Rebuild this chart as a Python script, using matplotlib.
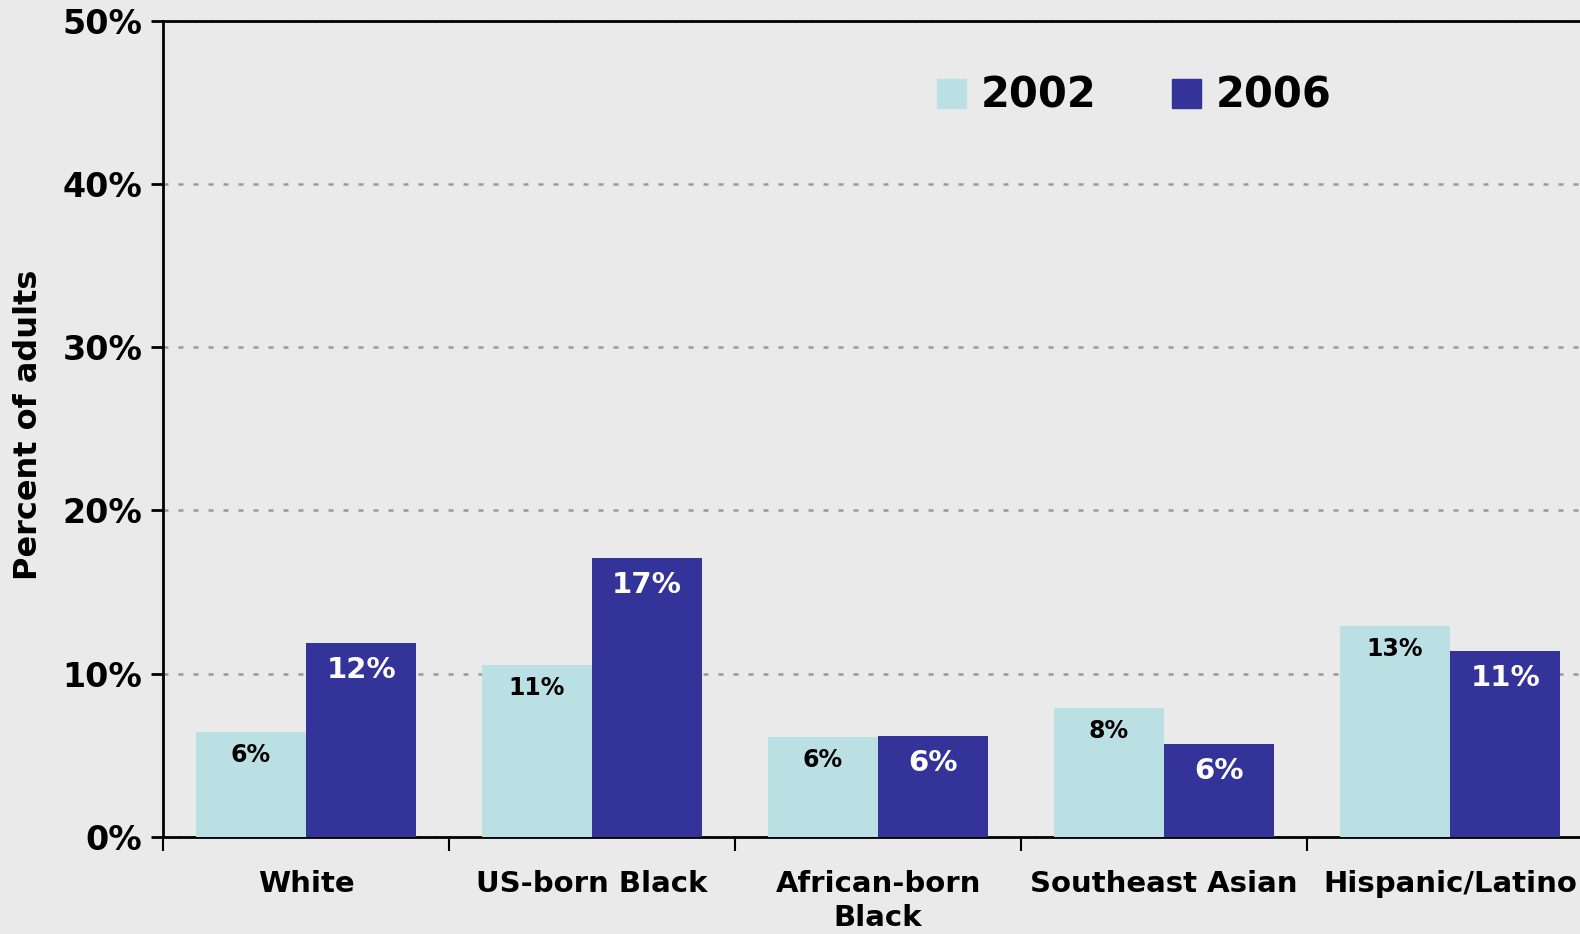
import matplotlib.pyplot as plt
import numpy as np
from matplotlib.patches import Patch
from matplotlib.ticker import FuncFormatter

BG = "#eaeaea"
COLOR_2002 = "#bbe0e3"
COLOR_2006 = "#333399"

categories = ["White", "US-born Black", "African-born\nBlack", "Southeast Asian", "Hispanic/Latino"]
values_2002 = [6.4, 10.5, 6.1, 7.9, 12.9]
values_2006 = [11.9, 17.1, 6.2, 5.7, 11.4]
labels_2002 = ["6%", "11%", "6%", "8%", "13%"]
labels_2006 = ["12%", "17%", "6%", "6%", "11%"]
series_names = ["2002", "2006"]

plt.rcParams["font.family"] = ["DejaVu Sans"]
plt.rcParams["font.weight"] = "bold"

fig = plt.figure(figsize=(15.8, 9.34), dpi=100, facecolor=BG)
ax = fig.add_axes([0.1032, 0.1042, 0.9051, 0.8733], facecolor=BG)

x = np.arange(len(categories))
width = 0.385
bars_a = ax.bar(x - width / 2, values_2002, width, color=COLOR_2002, zorder=3)
bars_b = ax.bar(x + width / 2, values_2006, width, color=COLOR_2006, zorder=3)

for bar, text in zip(bars_a, labels_2002):
    ax.annotate(text, xy=(bar.get_x() + bar.get_width() / 2, bar.get_height()),
                xytext=(0, -23), textcoords="offset pixels", ha="center", va="center",
                fontsize=17, fontweight="bold", color="black", zorder=4)
for bar, text in zip(bars_b, labels_2006):
    ax.annotate(text, xy=(bar.get_x() + bar.get_width() / 2, bar.get_height()),
                xytext=(0, -27), textcoords="offset pixels", ha="center", va="center",
                fontsize=21, fontweight="bold", color="white", zorder=4)

ax.set_xlim(-0.5, len(categories) - 0.5)
ax.set_ylim(0, 50)
ax.set_yticks(np.arange(0, 51, 10))
ax.yaxis.set_major_formatter(FuncFormatter(lambda v, _: f"{v:.0f}%"))
ax.tick_params(axis="y", labelsize=24, length=9, width=2, pad=6)
ax.yaxis.grid(True, linestyle=(0, (2, 4)), color="#999999", linewidth=1.8, zorder=0)

ax.set_xticks(np.arange(-0.5, len(categories), 1.0))
ax.set_xticklabels([])
ax.set_xticks(x, minor=True)
ax.set_xticklabels(categories, minor=True, fontsize=21, fontweight="bold", linespacing=1.25)
ax.tick_params(axis="x", which="major", length=10, width=1.5, direction="out")
ax.tick_params(axis="x", which="minor", length=0, pad=24)

for side in ["left", "bottom", "top"]:
    ax.spines[side].set_linewidth(2)
    ax.spines[side].set_color("black")
ax.spines["right"].set_visible(False)

ax.set_ylabel("Percent of adults", fontsize=23, fontweight="bold")
ax.yaxis.set_label_coords(-0.083, 0.505)

handles = [Patch(color=COLOR_2002), Patch(color=COLOR_2006)]
ax.legend(handles, series_names, ncol=2, frameon=False, loc="upper left",
          bbox_to_anchor=(0.515, 0.98), prop={"size": 30, "weight": "bold"},
          handlelength=0.7, handleheight=0.7, handletextpad=0.35, columnspacing=1.8)

fig.savefig("out.png", dpi=100, facecolor=BG)
